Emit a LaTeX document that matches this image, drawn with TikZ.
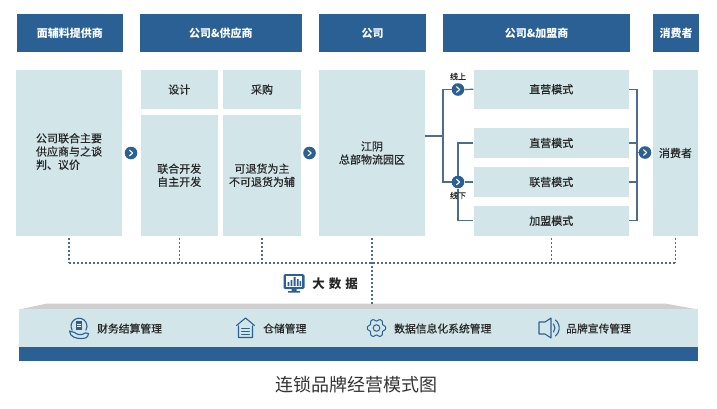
\documentclass[tikz,border=0pt]{standalone}
\usepackage{fontspec}
\setmainfont{Noto Sans CJK SC}
\newfontfamily\medf[FakeBold=0.45]{Noto Sans CJK SC}
\usetikzlibrary{calc}
\definecolor{navy}{HTML}{2A6094}
\definecolor{pale}{HTML}{D2E6EA}
\definecolor{slab}{HTML}{CFCFCF}
\definecolor{wirec}{HTML}{4D6C8E}
\definecolor{ink}{HTML}{262626}
\tikzset{
  head/.style={fill=navy,text=white,inner sep=0pt,font=\fontsize{11}{13}\selectfont\bfseries},
  cell/.style={fill=pale,text=ink,inner sep=0pt,align=center,font=\medf\fontsize{11}{13.2}\selectfont},
  go/.style={circle,fill=navy,minimum size=12.6pt,inner sep=0pt,path picture={
     \draw[white,line width=1.1pt,line cap=round,line join=round]
       ($(path picture bounding box.center)+(-1.4pt,-2.8pt)$) --
       ($(path picture bounding box.center)+(1.6pt,0pt)$) --
       ($(path picture bounding box.center)+(-1.4pt,2.8pt)$);}},
  wire/.style={draw=wirec,line width=1.2pt},
  dots/.style={draw=wirec,line width=1.2pt,dash pattern=on 2pt off 2pt},
  tag/.style={text=ink,inner sep=0pt,font=\medf\fontsize{8}{9}\selectfont},
  item/.style={text=ink,inner sep=0pt,anchor=west,font=\medf\fontsize{10.8}{12}\selectfont},
  icon/.style={draw=navy,line width=1.1pt,line join=round,line cap=round}
}
\newcommand{\blk}[7]{\node[#6,minimum width={(#4-#2)*1pt},minimum height={(#5-#3)*1pt}] (#1) at ({(#2+#4)/2},{(#3+#5)/2}) {#7};}
\begin{document}
\begin{tikzpicture}[x=1pt,y=-1pt]
\useasboundingbox (0,0) rectangle (717,408);
% headers
\blk{h1}{16.5}{14}{123}{52}{head}{面辅料提供商}
\blk{h2}{140}{14}{301.5}{52}{head}{公司\&供应商}
\blk{h3}{319}{14}{426}{52}{head}{公司}
\blk{h4}{443}{14}{630}{52}{head}{公司\&加盟商}
\blk{h5}{653}{14}{699}{52}{head}{消费者}
% columns
\blk{col1}{16}{70}{122}{236}{cell}{\begin{tabular}{@{}l@{}}公司联合主要\\供应商与之谈\\判、议价\end{tabular}}
\blk{design}{140.5}{70}{218}{109}{cell}{设计}
\blk{buy}{223}{70}{301}{109}{cell}{采购}
\blk{dev}{140.5}{114.5}{218}{236}{cell}{联合开发\\自主开发}
\blk{ret}{223}{114.5}{301}{236}{cell}{可退货为主\\不可退货为辅}
\blk{col3}{319}{70}{425}{236}{cell}{江阴\\总部物流园区}
\blk{online}{473.5}{70}{629}{108.5}{cell}{直营模式}
\blk{direct}{473.5}{128}{629}{158}{cell}{直营模式}
\blk{joint}{473.5}{167}{629}{197}{cell}{联营模式}
\blk{franch}{473.5}{205.5}{629}{236}{cell}{加盟模式}
\blk{cons}{653}{70}{698}{236}{cell}{消费者}
% named junctions
\coordinate (hub) at (443,136);
\coordinate (lower) at (458,143);
\coordinate (brk) at (637,143);
\coordinate (bus) at (0,263);
\node[go] (c1) at (131,153) {};
\node[go] (c2) at (309.5,153) {};
\node[go] (con) at (458,89.5) {};
\node[go] (coff) at (458,182) {};
\node[go] (c5) at (645,152.5) {};
% connectors
\draw[wire] (col3.east |- hub) -- (hub);
\draw[wire] (online.west) -- (con.east);
\draw[wire] (con.west) -| (hub) |- (coff.west);
\draw[wire] (direct.west) -- (lower) -- (lower |- coff.north);
\draw[wire] (coff.south) -- (coff.south |- franch.west) -- (franch.west);
\draw[wire] (coff.east) -- (joint.west);
\draw[wire] (online.east) -| (brk);
\draw[wire] (franch.east) -| (brk);
\draw[wire] (direct.east) -- (brk);
\draw[wire] (joint.east) -- (joint.east -| brk);
\draw[wire] (brk |- c5) -- (c5.west);
\node[tag] (lon) at (458,76.5) {线上};
\node[tag] (loff) at (458,195.5) {线下};
% platform
\fill[slab] (19,309.5) -- (47,303.5) -- (665,303.5) -- (698,309.5) -- cycle;
\coordinate (slabtop) at (372,303.5);
\blk{plat}{19}{309}{698}{347.5}{fill=pale,inner sep=0pt}{}
\blk{base}{19}{347}{698}{360.5}{fill=navy,inner sep=0pt}{}
% dotted bus
\draw[dots] (col1.south |- bus) -- (cons.south |- bus);
\foreach \n in {col1,dev,ret,franch,cons}{
  \draw[dots,shorten <=2pt] (\n.south) -- (\n.south |- bus);}
\draw[dots,shorten <=2pt] (col3.south) -- (col3.south |- slabtop);
% big data
\begin{scope}[shift={(294,283)}]
  \fill[navy,rounded corners=1.5pt] (-10.5,-9) rectangle (10.5,6);
  \fill[white] (-8.2,-6.8) rectangle (8.2,3.8);
  \fill[navy] (-6.5,-1) rectangle (-4.7,3.2) (-3.4,-3) rectangle (-1.6,3.2) (-0.3,-6) rectangle (1.5,3.2) (2.8,-3.8) rectangle (4.6,3.2) (5.6,-1.8) rectangle (7.2,3.2);
  \fill[navy] (-2.5,6) rectangle (2.5,8) (-6,8) rectangle (6,9.5);
\end{scope}
\node[inner sep=0pt,text=ink,font=\fontsize{12.5}{14}\selectfont\bfseries] (big) at (335,284) {大\hspace{4pt}数\hspace{4pt}据};
% items
\node[item] (t1) at (97,328.5) {财务结算管理};
\node[item] (t2) at (263,328.5) {仓储管理};
\node[item] (t3) at (394,328.5) {数据信息化系统管理};
\node[item] (t4) at (566,328.5) {品牌宣传管理};
% hand with coin
\begin{scope}[shift={(79,328)}]
  \draw[icon] (-6.9,2.2) arc (150:390:8);
  \fill[navy] (-2.6,-7) rectangle (2.6,2);
  \draw[white,line width=.7pt] (-1.8,-4) -- (1.8,-4) (-1.8,-1.5) -- (1.8,-1.5);
  \draw[icon] (-9.5,3) .. controls (-6,3) and (-3,5.5) .. (-1,6.5) -- (3,6.5)
     .. controls (5,4.5) and (8,4.5) .. (9.5,5.5)
     .. controls (9,10) and (6,10.5) .. (2,10.5)
     .. controls (-3,10.5) and (-9,9) .. (-9.5,3) -- cycle;
\end{scope}
% house
\begin{scope}[shift={(245.5,328)}]
  \draw[icon] (-9,-2.5) -- (0,-10) -- (9,-2.5) (-7,-2) -- (-7,9.5) -- (7,9.5) -- (7,-2);
  \draw[icon,line width=.9pt] (-4,0) -- (4,0) (-4,3) -- (4,3) (-4,6) -- (4,6);
\end{scope}
% gear
\begin{scope}[shift={(376.5,328)}]
  \draw[icon,line width=1pt] (0,0) circle (3.3);
  \draw[icon,line width=1pt,rounded corners=1pt] (12:9.3)
     \foreach \a in {0,60,...,300}{
        -- (\a+12:9.3) -- (\a+22:7) -- (\a+38:7) -- (\a+48:9.3)} -- cycle;
\end{scope}
% speaker
\begin{scope}[shift={(548,328)}]
  \draw[icon] (-9,-6) -- (-3,-6) -- (3,-10) -- (3,10) -- (-3,6) -- (-9,6) -- cycle;
  \draw[icon] (5.5,-4) arc (-40:40:6.2);
  \draw[icon] (7.5,-8) arc (-50:50:10.4);
\end{scope}
% caption
\node[inner sep=0pt,text=black!80,font=\fontsize{18}{20}\selectfont] (cap) at (356.5,384.5) {连锁品牌经营模式图};
\end{tikzpicture}
\end{document}
